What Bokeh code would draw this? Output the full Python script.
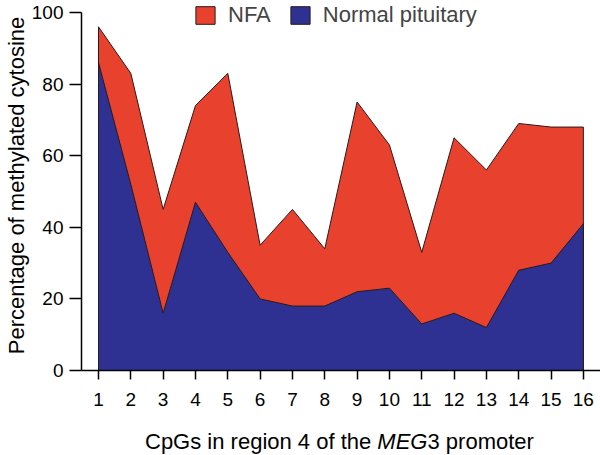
from bokeh.plotting import figure
from bokeh.layouts import column
from bokeh.models import Legend, LegendItem, FixedTicker, Range1d, Div
from bokeh.embed import file_html
from bokeh.resources import INLINE

# ---- data ----
cpg = list(range(1, 17))
nfa = [96, 83, 45, 74, 83, 35, 45, 34, 75, 63, 33, 65, 56, 69, 68, 68]
normal = [86, 52, 16, 47, 33, 20, 18, 18, 22, 23, 13, 16, 12, 28, 30, 41]
x_ticks = cpg
y_ticks = [0, 20, 40, 60, 80, 100]
series_names = ["NFA", "Normal pituitary"]
x_label_html = "CpGs in region 4 of the <i>MEG</i>3 promoter"
y_label = "Percentage of methylated cytosine"

RED = "#e8412e"
BLUE = "#2e3192"
EDGE = "#2a1b1b"
FONT = "Liberation Sans"

W, HF = 600, 428
p = figure(width=W, height=HF, output_backend="svg", toolbar_location=None,
           x_range=Range1d(0.474, 16.53), y_range=Range1d(0, 103.35),
           min_border_left=81, min_border_right=0, min_border_top=0,
           min_border_bottom=HF - 370)
p.outline_line_color = None
p.xgrid.visible = False
p.ygrid.visible = False
p.background_fill_color = "white"

xs = cpg + cpg[::-1]
r_nfa = p.patch(xs, nfa + [0] * len(cpg), fill_color=RED, line_color=EDGE,
                line_width=1)
r_norm = p.patch(xs, normal + [0] * len(cpg), fill_color=BLUE,
                 line_color=EDGE, line_width=1)

for ax in (p.xaxis[0], p.yaxis[0]):
    ax.axis_line_color = "black"
    ax.axis_line_width = 1.5
    ax.major_tick_line_color = "black"
    ax.major_tick_line_width = 1.5
    ax.minor_tick_line_color = None
    ax.major_tick_in = 0
    ax.major_label_text_font = FONT
    ax.major_label_text_font_size = "19px"
    ax.major_label_text_color = "black"

p.xaxis.ticker = FixedTicker(ticks=x_ticks)
p.xaxis.major_tick_out = 9
p.xaxis.major_label_standoff = 13
p.yaxis.ticker = FixedTicker(ticks=y_ticks)
p.yaxis.bounds = (0, 100)
p.yaxis.major_tick_out = 12
p.yaxis.major_label_standoff = 6
p.yaxis.axis_label = y_label
p.yaxis.axis_label_text_font = FONT
p.yaxis.axis_label_text_font_style = "normal"
p.yaxis.axis_label_text_font_size = "22px"
p.yaxis.axis_label_text_color = "black"
p.yaxis.axis_label_standoff = 0

# legend: location tuple = bottom-left corner, frame-relative (y from bottom)
legend = Legend(items=[LegendItem(label=series_names[0], renderers=[r_nfa]),
                       LegendItem(label=series_names[1], renderers=[r_norm])],
                orientation="horizontal", location=(112, 342),
                padding=0, margin=0, spacing=17, label_standoff=11,
                glyph_width=24, glyph_height=22, label_height=22,
                label_text_font=FONT, label_text_font_size="22px",
                label_text_baseline="middle",
                background_fill_alpha=0, border_line_alpha=0)
p.add_layout(legend)

xlabel = Div(text=x_label_html, width=W - 145, height=455 - HF,
             margin=(0, 0, 0, 145),
             styles={"font-family": FONT, "font-size": "22px",
                     "line-height": "28px", "color": "black",
                     "white-space": "nowrap"})

layout = column(p, xlabel, spacing=0)
open("out.html", "w").write(file_html(layout, INLINE))
